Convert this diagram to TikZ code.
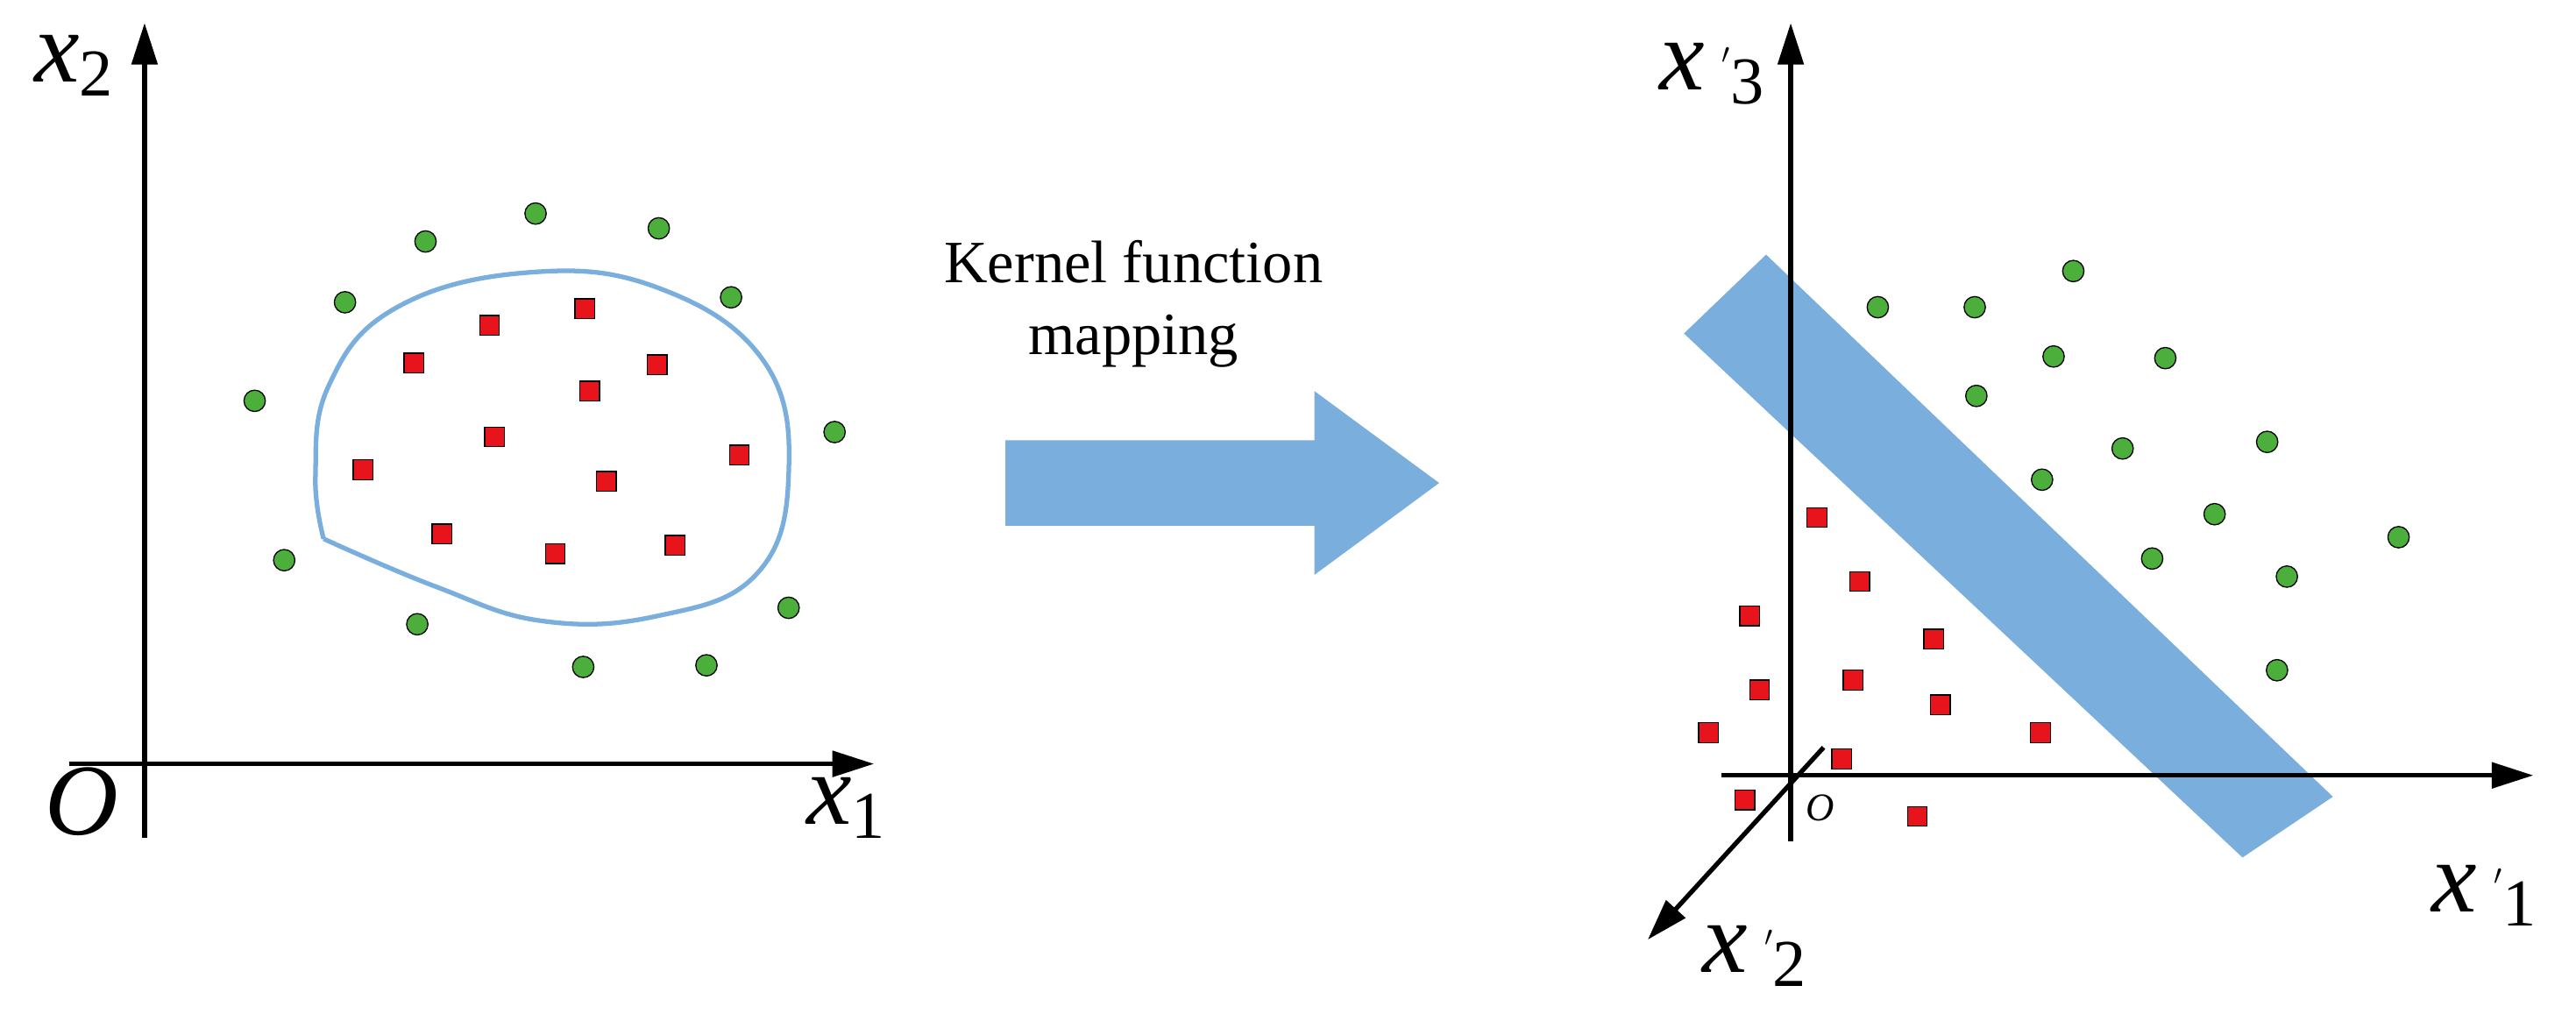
\documentclass[tikz,border=0pt]{standalone}
\usepackage{fontspec}
\setmainfont{Liberation Serif}
\usetikzlibrary{arrows.meta}
\definecolor{bl}{HTML}{7AAEDD}
\definecolor{gr}{HTML}{4CAF3C}
\definecolor{rd}{HTML}{E8141B}
\newcommand{\vx}[2]{\textit{x}\raisebox{-0.3ex}{\fontsize{58}{60}\selectfont #2}}
\newcommand{\vxp}[1]{\textit{x}\,\raisebox{0.35ex}{$'$}\raisebox{-0.3ex}{\fontsize{58}{60}\selectfont #1}}
\begin{document}
\begin{tikzpicture}[x=0.05cm,y=-0.05cm,
 ax/.style={line width=4pt,-{Triangle[length=36pt,width=22pt]}},
 g/.style={circle,fill=gr,draw=black,line width=1pt,minimum size=0.65cm,inner sep=0pt},
 r/.style={rectangle,fill=rd,draw=black,line width=1pt,minimum size=0.6cm,inner sep=0pt},
 lab/.style={font=\fontsize{88}{90}\selectfont}]
\useasboundingbox (0,0) rectangle (1568,617);
% left axes
\coordinate (lv0) at (88,510); \coordinate (lv1) at (88,14);
\coordinate (lh0) at (42,465); \coordinate (lh1) at (532,465);
\draw[ax] (lv0) -- (lv1);
\draw[ax] (lh0) -- (lh1);
\node[lab] (x2) at (45,40) {\vx{x}{2}};
\node[lab] (O) at (50,488) {\textit{O}};
\node[lab] (x1) at (515,492) {\vx{x}{1}};
% blob
\draw[bl,line width=4pt] (197,328) -- plot[smooth,tension=0.7] coordinates {(197,328)(265,357)(330,378)(400,375)(460,350)(480,290)(465,220)(400,175)(320,166)(240,188)(200,235)(192,290)(197,328)};
\foreach \p [count=\i] in {(326,130),(401,139),(259,147),(445,181),(210,184),(155,244),(508,263),(173,341),(480,370),(254,380),(355,406),(430,405)} \node[g] (lg\i) at \p {};
\foreach \p [count=\i] in {(356,188),(298,198),(252,221),(400,222),(359,238),(301,266),(450,277),(221,286),(369,293),(269,325),(338,337),(411,332)} \node[r] (lr\i) at \p {};
% arrow
\fill[bl] (612,268) -- (800,268) -- (800,238) -- (876,294) -- (800,350) -- (800,320) -- (612,320) -- cycle;
\node[font=\fontsize{52}{62}\selectfont,align=center] (k) at (690,185) {Kernel function\\mapping};
% right
\fill[bl] (1025,203) -- (1075,155) -- (1420,485) -- (1365,522) -- cycle;
\coordinate (rv0) at (1090,512); \coordinate (rv1) at (1090,14);
\coordinate (rh0) at (1048,472); \coordinate (rh1) at (1542,472);
\coordinate (rd0) at (1110,455); \coordinate (rd1) at (1003,572);
\draw[ax] (rv0) -- (rv1);
\draw[ax] (rh0) -- (rh1);
\draw[ax] (rd0) -- (rd1);
\node[lab] (x3) at (1042,45) {\vxp{3}};
\node[lab] (xp1) at (1512,545) {\vxp{1}};
\node[lab] (xp2) at (1068,582) {\vxp{2}};
\node[font=\fontsize{34}{36}\selectfont\itshape] (O2) at (1108,492) {O};
\foreach \p [count=\i] in {(1262,165),(1143,187),(1202,187),(1250,217),(1318,218),(1203,241),(1292,273),(1380,269),(1243,292),(1348,313),(1460,327),(1310,340),(1392,351),(1386,408)} \node[g] (rg\i) at \p {};
\foreach \p [count=\i] in {(1106,315),(1132,354),(1065,375),(1177,389),(1128,414),(1071,420),(1181,429),(1040,446),(1242,446),(1121,462),(1062,487),(1167,497)} \node[r] (rr\i) at \p {};
\end{tikzpicture}
\end{document}
